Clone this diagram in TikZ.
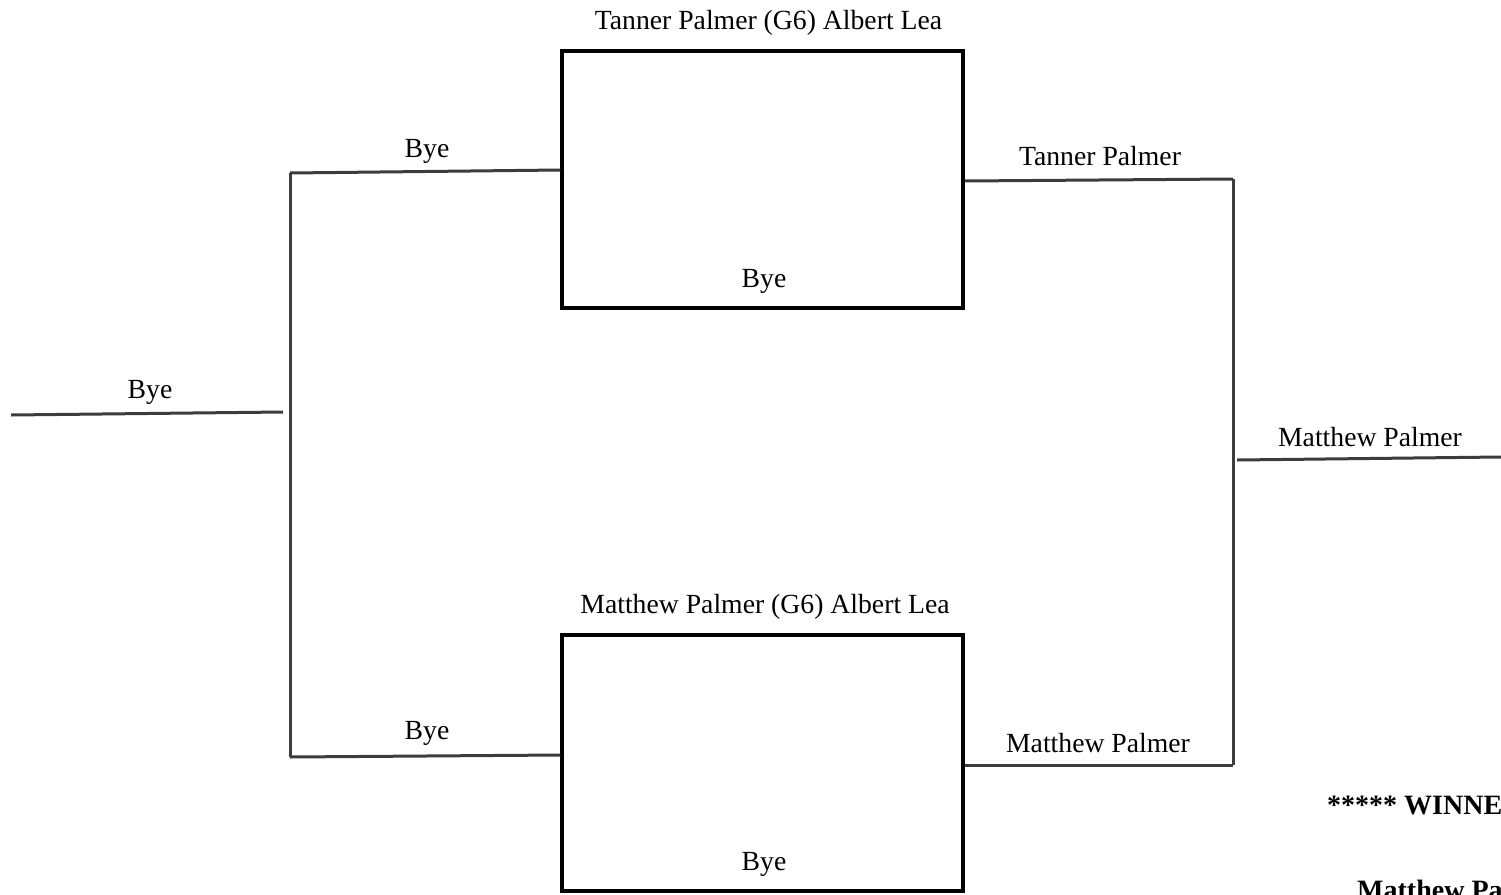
\documentclass[tikz,border=0pt]{standalone}
\usepackage{fontspec}
\setmainfont{Liberation Serif}
\definecolor{bracketgray}{RGB}{60,60,60}
\tikzset{
  matchbox/.style={draw=black, line width=3.4pt, minimum width=401pt, minimum height=257pt, inner sep=0pt},
  bline/.style={draw=bracketgray, line width=3pt},
  lbl/.style={anchor=base, inner sep=0pt, font=\fontsize{27.7}{33}\selectfont},
  winlbl/.style={anchor=base west, inner sep=0pt, font=\fontsize{28}{33}\selectfont\bfseries}
}
\begin{document}
\begin{tikzpicture}[x=1pt,y=-1pt]
\useasboundingbox (0,0) rectangle (1501,894);
\clip (0,0) rectangle (1501,894);
% boxes
\node[matchbox] (tbox) at (762.5,179.5) {};
\node[matchbox, minimum height=256pt] (bbox) at (762.5,763) {};
% coordinates
\coordinate (ltop) at (290,173);
\coordinate (lbot) at (290,757);
\coordinate (lfarA) at (11,415);
\coordinate (lfarB) at (283,412);
\coordinate (rtop) at (1233,179);
\coordinate (rbot) at (1233,765);
\coordinate (rfarA) at (1237,460);
\coordinate (rfarB) at (1501,457);
% connectors
\draw[bline] (ltop) -- ([yshift=9.5pt]tbox.west);
\draw[bline] (lbot) -- ([yshift=8pt]bbox.west);
\draw[bline] (ltop) -- (lbot);
\draw[bline] (lfarA) -- (lfarB);
\draw[bline] ([yshift=-1.5pt]tbox.east) -- (rtop);
\draw[bline] ([yshift=-2pt]bbox.east) -- (rbot);
\draw[bline] (rtop) -- (rbot);
\draw[bline] (rfarA) -- (rfarB);
% labels
\node[lbl] (t1) at (768.5,29) {Tanner Palmer (G6) Albert Lea};
\node[lbl] (t2) at (764,287) {Bye};
\node[lbl] (t3) at (427,157) {Bye};
\node[lbl] (t4) at (1100,165) {Tanner Palmer};
\node[lbl] (t5) at (150,398) {Bye};
\node[lbl] (t6) at (1370,446) {Matthew Palmer};
\node[lbl] (t7) at (765,613) {Matthew Palmer (G6) Albert Lea};
\node[lbl] (t8) at (427,739) {Bye};
\node[lbl] (t9) at (764,870) {Bye};
\node[lbl] (t10) at (1098,752) {Matthew Palmer};
\node[winlbl] (w1) at (1327,814) {***** WINNER *****};
\node[winlbl] (w2) at (1357,899) {Matthew Palmer};
\end{tikzpicture}
\end{document}
